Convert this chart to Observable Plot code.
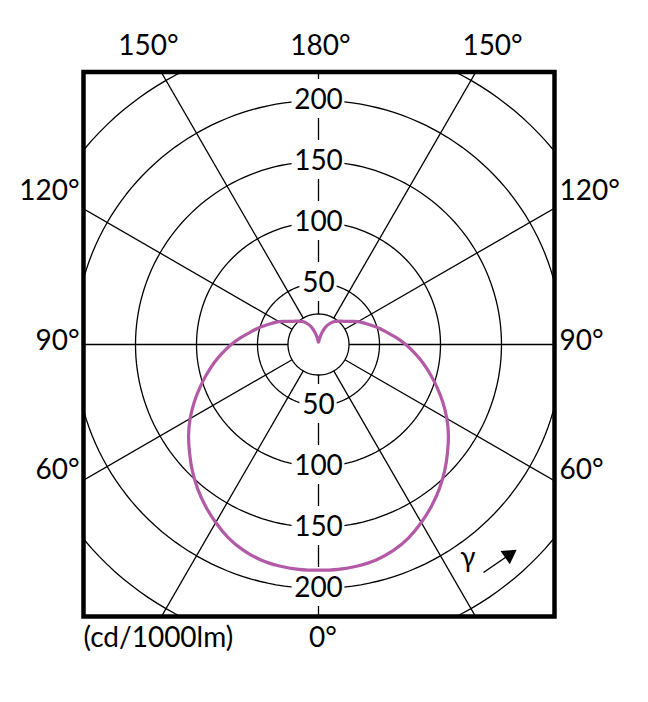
<!DOCTYPE html>
<html>
<head>
<meta charset="utf-8">
<script src="https://cdn.jsdelivr.net/npm/d3@7"></script>
<script src="https://cdn.jsdelivr.net/npm/@observablehq/plot@0.6"></script>
<style>
  html, body { margin: 0; padding: 0; background: #fff; }
  #chart { width: 648px; height: 702px; }
</style>
</head>
<body>
<div id="chart"></div>
<script>
// ---- data (cd/1000lm versus gamma angle, 0° = straight down) ----
const gammaDeg = [0,5,10,15,20,25,30,35,40,45,50,55,60,65,70,75,80,85,90,
                  95,100,105,110,115,120,125,130,135,140,145,150,155,160,165,170,175,180];
const intensity = [185,185,184.3,182.8,179.6,174.8,168.5,161.6,154.2,146.3,138,130,121.5,112.5,103.5,95,87,79,71.5,
                   64,57,51.5,46,41.5,37.5,33,29.5,27,25,23,20.5,17.5,13.5,9,5,2.5,2];
const ringValues = [25, 50, 100, 150, 200, 250];
const ringLabels = [50, 100, 150, 200];
const spokeAngles = [0, 30, 60, 90, 120, 150, 180];
const topAngles = [150, 180];
const sideAngles = [120, 90, 60];
const unitLabel = "(cd/1000lm)";
const gammaLabel = "γ";

// ---- layout (pixels) ----
const W = 648, H = 702;
const frameL = 83, frameR = 554, frameT = 71.5, frameB = 616;
const cx = 318, cy = 344;
const k = 1.22; // px per cd/1000lm
const ux = p => (p - cx) / k;
const uy = p => (cy - p) / k;
const rad = d => d * Math.PI / 180;
const FS = 28;
const digitW = 15.6;

// curve points (left half then right half)
const curve = [];
for (let i = gammaDeg.length - 1; i >= 0; --i) {
  const g = rad(gammaDeg[i]), I = intensity[i];
  curve.push({x: -I * Math.sin(g), y: -I * Math.cos(g)});
}
for (let i = 1; i < gammaDeg.length; ++i) {
  const g = rad(gammaDeg[i]), I = intensity[i];
  curve.push({x: I * Math.sin(g), y: -I * Math.cos(g)});
}

// grid rings
const rings = [];
for (const r of ringValues) {
  for (let a = 0; a <= 360; a += 2) {
    rings.push({ring: r, x: r * Math.cos(rad(a)), y: r * Math.sin(rad(a))});
  }
}
// spokes
const spokes = [];
for (const a of spokeAngles) {
  for (const s of (a === 0 || a === 180) ? [1] : [-1, 1]) {
    const g = rad(a);
    spokes.push({
      x1: s * 25 * Math.sin(g), y1: -25 * Math.cos(g),
      x2: s * 400 * Math.sin(g), y2: -400 * Math.cos(g)
    });
  }
}
// axis labels on the 0-180 line
const axisLabels = [];
for (const v of ringLabels) {
  axisLabels.push({y: v, label: String(v)});
  axisLabels.push({y: -v, label: String(v)});
}
const halfW = d => (d.label.length * digitW / 2 + 3) / k;

// outer angle labels
const yTopLabel = uy(46);
const topLabelData = [];
for (const a of topAngles) {
  const t = Math.tan(rad(180 - a));
  if (a === 180) topLabelData.push({x: 0, label: a + "°"});
  else {
    topLabelData.push({x: -yTopLabel * t, label: a + "°"});
    topLabelData.push({x: yTopLabel * t, label: a + "°"});
  }
}
const lift = {120: 18, 90: 3, 60: 10};
const sideLabelData = [];
for (const a of sideAngles) {
  const yy = (cx - frameL) / k * Math.tan(rad(a - 90)) + lift[a] / k;
  sideLabelData.push({side: "L", x: ux(frameL - 4), y: yy, label: a + "°"});
  sideLabelData.push({side: "R", x: ux(frameR + 5), y: yy, label: a + "°"});
}

// gamma arrow (decoration)
const arrow = [{x1: ux(483), y1: uy(572), x2: ux(507), y2: uy(555.5)}];
const head = [{x: ux(508.5), y: uy(554.5)}];

const chart = Plot.plot({
  width: W, height: H,
  marginLeft: frameL, marginRight: W - frameR, marginTop: frameT, marginBottom: H - frameB,
  x: {domain: [ux(frameL), ux(frameR)], axis: null},
  y: {domain: [uy(frameB), uy(frameT)], axis: null},
  style: {fontFamily: "Lato, 'Open Sans', sans-serif", fontSize: FS + "px", background: "#fff", color: "#000"},
  marks: [
    Plot.line(rings, {x: "x", y: "y", z: "ring", stroke: "#000", strokeWidth: 1.3, clip: true}),
    Plot.link(spokes, {x1: "x1", y1: "y1", x2: "x2", y2: "y2", stroke: "#000", strokeWidth: 1.3, clip: true}),
    Plot.rect(axisLabels, {
      x1: d => -halfW(d), x2: d => halfW(d),
      y1: d => d.y - 18 / k, y2: d => d.y + 21 / k, fill: "#fff"
    }),
    Plot.text(axisLabels, {x: 0, y: "y", text: "label", fill: "#000", fontSize: FS}),
    Plot.line(curve, {x: "x", y: "y", stroke: "#b25aa6", strokeWidth: 3.2, curve: "catmull-rom"}),
    Plot.frame({stroke: "#000", strokeWidth: 4.5}),
    Plot.text(topLabelData, {x: "x", y: yTopLabel, text: "label", fill: "#000", fontSize: FS, dx: 2}),
    Plot.text(sideLabelData.filter(d => d.side === "L"), {x: "x", y: "y", text: "label", textAnchor: "end", fill: "#000", fontSize: FS}),
    Plot.text(sideLabelData.filter(d => d.side === "R"), {x: "x", y: "y", text: "label", textAnchor: "start", fill: "#000", fontSize: FS}),
    Plot.text(["0°"], {frameAnchor: "bottom", dx: 4, dy: 30, text: d => d, fill: "#000", fontSize: FS}),
    Plot.text([unitLabel], {frameAnchor: "bottom-left", textAnchor: "start", dy: 30, text: d => d, fill: "#000", fontSize: FS}),
    Plot.text([gammaLabel], {frameAnchor: "bottom-right", dx: -79, dy: -50, text: d => d, fill: "#000", fontSize: FS}),
    Plot.link(arrow, {x1: "x1", y1: "y1", x2: "x2", y2: "y2", stroke: "#000", strokeWidth: 1.5}),
    Plot.dot(head, {x: "x", y: "y", symbol: "triangle", r: 6, fill: "#000", stroke: "none", rotate: 55})
  ]
});
document.getElementById("chart").appendChild(chart);
</script>
</body>
</html>
